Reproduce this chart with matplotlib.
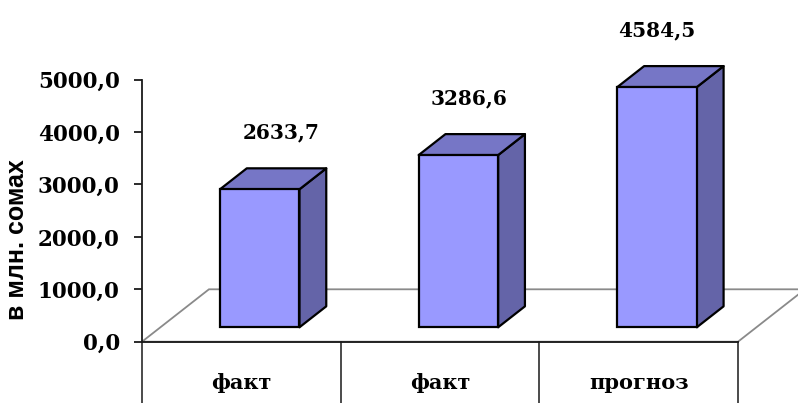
import matplotlib
matplotlib.use('Agg')
import matplotlib.pyplot as plt
from matplotlib.patches import Polygon
from matplotlib.ticker import FuncFormatter, FixedLocator

# ---- data ----
categories = ['факт', 'факт', 'прогноз']
values = [2633.7, 3286.6, 4584.5]
y_ticks = [0, 1000, 2000, 3000, 4000, 5000]
y_label = 'в млн. сомах'

# ---- layout / style ----
W, H = 798, 403
fig = plt.figure(figsize=(W / 100, H / 100), dpi=100)
ax = fig.add_axes([142 / W, (H - 341.7) / H, 596 / W, 262 / H])
ax.set_xlim(0, len(categories))
ax.set_ylim(0, 5000)

dx, dy = 0.337, 1000.0      # oblique depth vector (data units)
f0, fd = 0.275, 0.40        # bar front depth fraction, bar depth fraction
bw = 0.40                   # bar width (category units)
label_dx = [0.20, 0.146, 0.092]
label_gap = 1080

front_c = '#9999FF'
top_c = '#7676C6'
side_c = '#6464A8'
grey = '#8a8a8a'
axis_c = '#1a1a1a'

serif = 'DejaVu Serif'
n = len(categories)

# floor
floor = Polygon([(0, 0), (n, 0), (n + dx, dy), (dx, dy)], closed=True,
                fill=False, edgecolor=grey, lw=1.3, clip_on=False, zorder=1)
ax.add_patch(floor)

# bars
bottom = f0 * dy
xs = [i + 0.5 + f0 * dx for i in range(n)]
ax.bar(xs, values, width=bw, bottom=bottom, color=front_c, edgecolor='black',
       linewidth=1.6, zorder=5, clip_on=False)
ddx, ddy = fd * dx, fd * dy
for x, v in zip(xs, values):
    x0, x1 = x - bw / 2, x + bw / 2
    yt = bottom + v
    top = Polygon([(x0, yt), (x1, yt), (x1 + ddx, yt + ddy), (x0 + ddx, yt + ddy)],
                  closed=True, facecolor=top_c, edgecolor='black', lw=1.6,
                  joinstyle='round', clip_on=False, zorder=4)
    side = Polygon([(x1, bottom), (x1 + ddx, bottom + ddy), (x1 + ddx, yt + ddy), (x1, yt)],
                   closed=True, facecolor=side_c, edgecolor='black', lw=1.6,
                   joinstyle='round', clip_on=False, zorder=4)
    ax.add_patch(side)
    ax.add_patch(top)

# data labels
for i, v in enumerate(values):
    ax.text(i + 0.5 + label_dx[i], bottom + v + label_gap,
            f'{v:.1f}'.replace('.', ','), ha='center', va='center',
            family=serif, fontweight='bold', fontsize=14.5, clip_on=False)

# axes styling
for s in ['top', 'right']:
    ax.spines[s].set_visible(False)
ax.spines['left'].set_color(axis_c)
ax.spines['left'].set_linewidth(1.3)
ax.spines['bottom'].set_color(axis_c)
ax.spines['bottom'].set_linewidth(1.3)
ax.set_xticks([])
ax.yaxis.set_major_locator(FixedLocator(y_ticks))
ax.yaxis.set_major_formatter(FuncFormatter(lambda v, p: f'{v:.1f}'.replace('.', ',')))
ax.tick_params(axis='y', direction='out', length=6, width=1.3, pad=10,
               colors=axis_c, labelcolor='black')
for lab in ax.get_yticklabels():
    lab.set_family(serif)
    lab.set_fontweight('bold')
    lab.set_fontsize(15.5)

# category table below the axis
for i in range(n + 1):
    ax.plot([i, i], [0, -1400], color=axis_c, lw=1.1, clip_on=False, zorder=2)
for i, c in enumerate(categories):
    ax.text(i + 0.5, -790, c, ha='center', va='center', family=serif,
            fontweight='bold', fontsize=15, clip_on=False)

fig.text(17 / W, 1 - 240 / H, y_label, rotation=90, ha='center', va='center',
         family='Liberation Sans', fontweight='bold', fontsize=18)

fig.savefig('out.png', dpi=100)
